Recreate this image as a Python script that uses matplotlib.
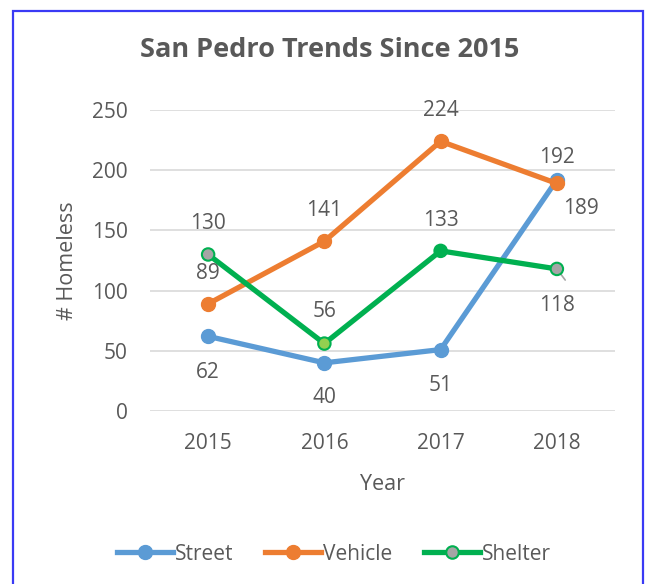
import matplotlib.pyplot as plt
from matplotlib.lines import Line2D
from matplotlib.patches import Rectangle

plt.rcParams['font.family'] = ['Open Sans', 'DejaVu Sans']

years = ['2015', '2016', '2017', '2018']
street = [62, 40, 51, 192]
vehicle = [89, 141, 224, 189]
shelter = [130, 56, 133, 118]
shelter_faces = ['#A5A5A5', '#92D050', '#00B050', '#A5A5A5']

TXT = '#595959'
C_STREET = '#5B9BD5'
C_VEHICLE = '#ED7D31'
C_SHELTER = '#00B050'

W, H = 649, 584
fig = plt.figure(figsize=(W / 100, H / 100), dpi=100)

# blue frame around the chart
fig.add_artist(Rectangle((13 / W, -0.05), (643 - 13) / W, 1.05 - 11 / H,
                         transform=fig.transFigure, fill=False,
                         edgecolor='#3A3AF5', linewidth=1.6))

ax = fig.add_axes([150 / W, (H - 411) / H, (615 - 150) / W, (411 - 110) / H])
x = range(len(years))

ax.plot(x, street, color=C_STREET, lw=3.8, marker='o', ms=10,
        mfc=C_STREET, mec=C_STREET, solid_capstyle='round', zorder=3)
ax.plot(x, vehicle, color=C_VEHICLE, lw=3.8, marker='o', ms=10,
        mfc=C_VEHICLE, mec=C_VEHICLE, solid_capstyle='round', zorder=3)
ax.plot(x, shelter, color=C_SHELTER, lw=3.8, solid_capstyle='round', zorder=3)
ax.scatter(x, shelter, s=80, c=shelter_faces, edgecolors=C_SHELTER,
           linewidths=1.5, zorder=4)

# data labels (offsets in points)
lab_kw = dict(textcoords='offset points', ha='center', va='center',
              fontsize=15, color=TXT, zorder=5)
street_off = [(0, -26), (0, -25), (0, -26), (0, 16)]
vehicle_off = [(0, 22), (0, 22), (0, 22), (17, -18)]
shelter_off = [(0, 22), (0, 23), (0, 22), (0, -26)]
for i in x:
    ax.annotate(str(street[i]), (i, street[i]), xytext=street_off[i], **lab_kw)
    ax.annotate(str(vehicle[i]), (i, vehicle[i]), xytext=vehicle_off[i], **lab_kw)
    ax.annotate(str(shelter[i]), (i, shelter[i]), xytext=shelter_off[i], **lab_kw)
# leader line for the last shelter label
ax.annotate('', (3, shelter[3]), xytext=(6, -8), textcoords='offset points',
            arrowprops=dict(arrowstyle='-', color='#A5A5A5', lw=1.2,
                            shrinkA=0, shrinkB=4), zorder=2)

ax.set_xlim(-0.5, 3.5)
ax.set_ylim(0, 250)
ax.set_yticks(range(0, 251, 50))
ax.set_xticks(list(x))
ax.set_xticklabels(years)
ax.grid(axis='y', color='#D9D9D9', lw=1.2)
ax.set_axisbelow(True)
for s in ax.spines.values():
    s.set_visible(False)
ax.tick_params(length=0, labelsize=15, labelcolor=TXT)
ax.tick_params(axis='x', pad=16)
ax.tick_params(axis='y', pad=16)
ax.set_xlabel('Year', fontsize=15.5, color=TXT, labelpad=14)
ax.set_ylabel('# Homeless', fontsize=15.5, color=TXT, labelpad=10)

fig.text(330 / W, 1 - 50 / H, 'San Pedro Trends Since 2015', ha='center',
         va='center', fontsize=19.5, fontweight='bold', color=TXT)

handles = [
    Line2D([], [], color=C_STREET, lw=3.8, marker='o', ms=10, mfc=C_STREET, mec=C_STREET),
    Line2D([], [], color=C_VEHICLE, lw=3.8, marker='o', ms=10, mfc=C_VEHICLE, mec=C_VEHICLE),
    Line2D([], [], color=C_SHELTER, lw=3.8, marker='o', ms=9, mfc='#A5A5A5', mec=C_SHELTER, mew=1.5),
]
fig.legend(handles, ['Street', 'Vehicle', 'Shelter'], loc='center',
           bbox_to_anchor=(334 / W, 30 / H), ncol=3, frameon=False,
           fontsize=15, labelcolor=TXT, handlelength=2.7,
           handletextpad=0.1, columnspacing=1.5)

fig.savefig('out.png', dpi=100)
